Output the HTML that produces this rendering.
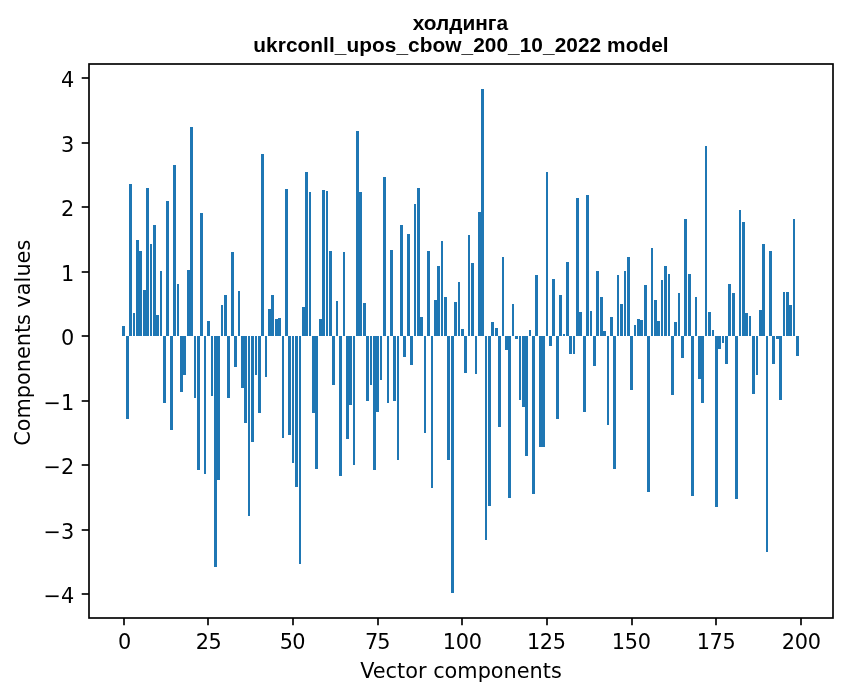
<!DOCTYPE html>
<html lang="uk"><head><meta charset="utf-8"><title>холдинга</title>
<style>html,body{margin:0;padding:0;background:#fff;overflow:hidden}svg{display:block}text{fill:#000}.t{font-family:"DejaVu Sans","Liberation Sans",sans-serif;font-size:20.83px}.h{font-family:"Liberation Sans","DejaVu Sans",sans-serif;font-weight:bold;font-size:20.83px}</style></head><body>
<svg width="847" height="696" viewBox="0 0 847 696">
<rect width="847" height="696" fill="#fff"/>
<g fill="#1f77b4" shape-rendering="crispEdges">
<rect x="122" y="326" width="3" height="10"/>
<rect x="126" y="336" width="3" height="83"/>
<rect x="129" y="184" width="3" height="152"/>
<rect x="133" y="313" width="2" height="23"/>
<rect x="136" y="240" width="3" height="96"/>
<rect x="139" y="251" width="3" height="85"/>
<rect x="143" y="290" width="3" height="46"/>
<rect x="146" y="188" width="3" height="148"/>
<rect x="150" y="244" width="2" height="92"/>
<rect x="153" y="225" width="3" height="111"/>
<rect x="156" y="315" width="3" height="21"/>
<rect x="160" y="271" width="2" height="65"/>
<rect x="163" y="336" width="3" height="67"/>
<rect x="166" y="201" width="3" height="135"/>
<rect x="170" y="336" width="3" height="94"/>
<rect x="173" y="165" width="3" height="171"/>
<rect x="177" y="284" width="2" height="52"/>
<rect x="180" y="336" width="3" height="56"/>
<rect x="183" y="336" width="3" height="39"/>
<rect x="187" y="270" width="3" height="66"/>
<rect x="190" y="127" width="3" height="209"/>
<rect x="194" y="336" width="2" height="62"/>
<rect x="197" y="336" width="3" height="134"/>
<rect x="200" y="213" width="3" height="123"/>
<rect x="204" y="336" width="2" height="138"/>
<rect x="207" y="321" width="3" height="15"/>
<rect x="211" y="336" width="2" height="60"/>
<rect x="214" y="336" width="3" height="231"/>
<rect x="217" y="336" width="3" height="144"/>
<rect x="221" y="305" width="2" height="31"/>
<rect x="224" y="295" width="3" height="41"/>
<rect x="227" y="336" width="3" height="62"/>
<rect x="231" y="252" width="3" height="84"/>
<rect x="234" y="336" width="3" height="31"/>
<rect x="238" y="291" width="2" height="45"/>
<rect x="241" y="336" width="3" height="52"/>
<rect x="244" y="336" width="3" height="87"/>
<rect x="248" y="336" width="2" height="180"/>
<rect x="251" y="336" width="3" height="106"/>
<rect x="255" y="336" width="2" height="39"/>
<rect x="258" y="336" width="3" height="77"/>
<rect x="261" y="154" width="3" height="182"/>
<rect x="265" y="336" width="2" height="41"/>
<rect x="268" y="309" width="3" height="27"/>
<rect x="271" y="295" width="3" height="41"/>
<rect x="275" y="319" width="3" height="17"/>
<rect x="278" y="318" width="3" height="18"/>
<rect x="282" y="336" width="2" height="102"/>
<rect x="285" y="189" width="3" height="147"/>
<rect x="288" y="336" width="3" height="99"/>
<rect x="292" y="336" width="2" height="127"/>
<rect x="295" y="336" width="3" height="151"/>
<rect x="299" y="336" width="2" height="228"/>
<rect x="302" y="307" width="3" height="29"/>
<rect x="305" y="172" width="3" height="164"/>
<rect x="309" y="192" width="2" height="144"/>
<rect x="312" y="336" width="3" height="77"/>
<rect x="315" y="336" width="3" height="133"/>
<rect x="319" y="319" width="3" height="17"/>
<rect x="322" y="190" width="3" height="146"/>
<rect x="326" y="191" width="2" height="145"/>
<rect x="329" y="251" width="3" height="85"/>
<rect x="332" y="336" width="3" height="49"/>
<rect x="336" y="301" width="2" height="35"/>
<rect x="339" y="336" width="3" height="140"/>
<rect x="343" y="252" width="2" height="84"/>
<rect x="346" y="336" width="3" height="103"/>
<rect x="349" y="336" width="3" height="69"/>
<rect x="353" y="336" width="2" height="129"/>
<rect x="356" y="131" width="3" height="205"/>
<rect x="359" y="192" width="3" height="144"/>
<rect x="363" y="303" width="3" height="33"/>
<rect x="366" y="336" width="3" height="65"/>
<rect x="370" y="336" width="2" height="49"/>
<rect x="373" y="336" width="3" height="134"/>
<rect x="376" y="336" width="3" height="76"/>
<rect x="380" y="336" width="2" height="44"/>
<rect x="383" y="177" width="3" height="159"/>
<rect x="387" y="336" width="2" height="67"/>
<rect x="390" y="250" width="3" height="86"/>
<rect x="393" y="336" width="3" height="65"/>
<rect x="397" y="336" width="2" height="124"/>
<rect x="400" y="225" width="3" height="111"/>
<rect x="403" y="336" width="3" height="21"/>
<rect x="407" y="234" width="3" height="102"/>
<rect x="410" y="336" width="3" height="29"/>
<rect x="414" y="204" width="2" height="132"/>
<rect x="417" y="188" width="3" height="148"/>
<rect x="420" y="317" width="3" height="19"/>
<rect x="424" y="336" width="2" height="97"/>
<rect x="427" y="251" width="3" height="85"/>
<rect x="431" y="336" width="2" height="152"/>
<rect x="434" y="300" width="3" height="36"/>
<rect x="437" y="266" width="3" height="70"/>
<rect x="441" y="241" width="2" height="95"/>
<rect x="444" y="297" width="3" height="39"/>
<rect x="447" y="336" width="3" height="124"/>
<rect x="451" y="336" width="3" height="257"/>
<rect x="454" y="302" width="3" height="34"/>
<rect x="458" y="282" width="2" height="54"/>
<rect x="461" y="329" width="3" height="7"/>
<rect x="464" y="336" width="3" height="37"/>
<rect x="468" y="235" width="2" height="101"/>
<rect x="471" y="263" width="3" height="73"/>
<rect x="475" y="336" width="2" height="38"/>
<rect x="478" y="212" width="3" height="124"/>
<rect x="481" y="89" width="3" height="247"/>
<rect x="485" y="336" width="2" height="204"/>
<rect x="488" y="336" width="3" height="170"/>
<rect x="491" y="322" width="3" height="14"/>
<rect x="495" y="328" width="3" height="8"/>
<rect x="498" y="336" width="3" height="91"/>
<rect x="502" y="257" width="2" height="79"/>
<rect x="505" y="336" width="3" height="14"/>
<rect x="508" y="336" width="3" height="162"/>
<rect x="512" y="304" width="2" height="32"/>
<rect x="515" y="336" width="3" height="3"/>
<rect x="519" y="336" width="2" height="64"/>
<rect x="522" y="336" width="3" height="71"/>
<rect x="525" y="336" width="3" height="120"/>
<rect x="529" y="330" width="2" height="6"/>
<rect x="532" y="336" width="3" height="158"/>
<rect x="535" y="275" width="3" height="61"/>
<rect x="539" y="336" width="3" height="111"/>
<rect x="542" y="336" width="3" height="111"/>
<rect x="546" y="172" width="2" height="164"/>
<rect x="549" y="336" width="3" height="10"/>
<rect x="552" y="279" width="3" height="57"/>
<rect x="556" y="336" width="3" height="83"/>
<rect x="559" y="295" width="3" height="41"/>
<rect x="563" y="334" width="2" height="2"/>
<rect x="566" y="262" width="3" height="74"/>
<rect x="569" y="336" width="3" height="18"/>
<rect x="573" y="336" width="2" height="18"/>
<rect x="576" y="198" width="3" height="138"/>
<rect x="579" y="312" width="3" height="24"/>
<rect x="583" y="336" width="3" height="76"/>
<rect x="586" y="195" width="3" height="141"/>
<rect x="590" y="311" width="2" height="25"/>
<rect x="593" y="336" width="3" height="30"/>
<rect x="596" y="271" width="3" height="65"/>
<rect x="600" y="297" width="3" height="39"/>
<rect x="603" y="331" width="3" height="5"/>
<rect x="607" y="336" width="2" height="89"/>
<rect x="610" y="317" width="3" height="19"/>
<rect x="613" y="336" width="3" height="133"/>
<rect x="617" y="275" width="2" height="61"/>
<rect x="620" y="304" width="3" height="32"/>
<rect x="624" y="271" width="2" height="65"/>
<rect x="627" y="257" width="3" height="79"/>
<rect x="630" y="336" width="3" height="54"/>
<rect x="634" y="325" width="2" height="11"/>
<rect x="637" y="319" width="3" height="17"/>
<rect x="640" y="320" width="3" height="16"/>
<rect x="644" y="285" width="3" height="51"/>
<rect x="647" y="336" width="3" height="156"/>
<rect x="651" y="248" width="2" height="88"/>
<rect x="654" y="300" width="3" height="36"/>
<rect x="657" y="321" width="3" height="15"/>
<rect x="661" y="280" width="2" height="56"/>
<rect x="664" y="266" width="3" height="70"/>
<rect x="668" y="274" width="2" height="62"/>
<rect x="671" y="336" width="3" height="59"/>
<rect x="674" y="322" width="3" height="14"/>
<rect x="678" y="293" width="2" height="43"/>
<rect x="681" y="336" width="3" height="22"/>
<rect x="684" y="219" width="3" height="117"/>
<rect x="688" y="274" width="3" height="62"/>
<rect x="691" y="336" width="3" height="160"/>
<rect x="695" y="297" width="2" height="39"/>
<rect x="698" y="336" width="3" height="43"/>
<rect x="701" y="336" width="3" height="67"/>
<rect x="705" y="146" width="2" height="190"/>
<rect x="708" y="312" width="3" height="24"/>
<rect x="712" y="330" width="2" height="6"/>
<rect x="715" y="336" width="3" height="171"/>
<rect x="718" y="336" width="3" height="13"/>
<rect x="722" y="336" width="2" height="7"/>
<rect x="725" y="336" width="3" height="28"/>
<rect x="728" y="284" width="3" height="52"/>
<rect x="732" y="293" width="3" height="43"/>
<rect x="735" y="336" width="3" height="163"/>
<rect x="739" y="210" width="2" height="126"/>
<rect x="742" y="222" width="3" height="114"/>
<rect x="745" y="313" width="3" height="23"/>
<rect x="749" y="316" width="2" height="20"/>
<rect x="752" y="336" width="3" height="58"/>
<rect x="756" y="336" width="2" height="39"/>
<rect x="759" y="310" width="3" height="26"/>
<rect x="762" y="244" width="3" height="92"/>
<rect x="766" y="336" width="2" height="216"/>
<rect x="769" y="251" width="3" height="85"/>
<rect x="772" y="336" width="3" height="28"/>
<rect x="776" y="336" width="3" height="3"/>
<rect x="779" y="336" width="3" height="64"/>
<rect x="783" y="292" width="2" height="44"/>
<rect x="786" y="292" width="3" height="44"/>
<rect x="789" y="305" width="3" height="31"/>
<rect x="793" y="219" width="2" height="117"/>
<rect x="796" y="336" width="3" height="20"/>
</g>
<g stroke="#000" stroke-width="1.67" fill="none">
<line x1="124" y1="618" x2="124" y2="625.3"/>
<line x1="208" y1="618" x2="208" y2="625.3"/>
<line x1="293" y1="618" x2="293" y2="625.3"/>
<line x1="378" y1="618" x2="378" y2="625.3"/>
<line x1="462" y1="618" x2="462" y2="625.3"/>
<line x1="547" y1="618" x2="547" y2="625.3"/>
<line x1="632" y1="618" x2="632" y2="625.3"/>
<line x1="716" y1="618" x2="716" y2="625.3"/>
<line x1="801" y1="618" x2="801" y2="625.3"/>
<line x1="81.7" y1="594" x2="89" y2="594"/>
<line x1="81.7" y1="530" x2="89" y2="530"/>
<line x1="81.7" y1="465" x2="89" y2="465"/>
<line x1="81.7" y1="401" x2="89" y2="401"/>
<line x1="81.7" y1="336" x2="89" y2="336"/>
<line x1="81.7" y1="272" x2="89" y2="272"/>
<line x1="81.7" y1="207" x2="89" y2="207"/>
<line x1="81.7" y1="143" x2="89" y2="143"/>
<line x1="81.7" y1="78" x2="89" y2="78"/>
<rect x="89" y="64" width="744" height="554" stroke-linejoin="miter"/>
</g>
<text class="t" x="118.02" y="649" letter-spacing="-0.3">0</text>
<text class="t" x="195.82" y="649" letter-spacing="-0.5">25</text>
<text class="t" x="279.85" y="649" letter-spacing="-0.8">50</text>
<text class="t" x="364.88" y="649" letter-spacing="-0.9">75</text>
<text class="t" x="442.79" y="649" letter-spacing="-0.3">100</text>
<text class="t" x="526.92" y="649" letter-spacing="-0.3">125</text>
<text class="t" x="611.85" y="649" letter-spacing="-0.3">150</text>
<text class="t" x="696.68" y="649" letter-spacing="-0.3">175</text>
<text class="t" x="781.81" y="649" letter-spacing="-0.3">200</text>
<text class="t" x="74.3" y="603" text-anchor="end">−4</text>
<text class="t" x="74.3" y="539" text-anchor="end">−3</text>
<text class="t" x="74.3" y="474" text-anchor="end">−2</text>
<text class="t" x="74.3" y="410" text-anchor="end">−1</text>
<text class="t" x="74.3" y="345" text-anchor="end">0</text>
<text class="t" x="74.3" y="281" text-anchor="end">1</text>
<text class="t" x="74.3" y="216" text-anchor="end">2</text>
<text class="t" x="74.3" y="152" text-anchor="end">3</text>
<text class="t" x="74.3" y="87" text-anchor="end">4</text>
<text class="t" x="461" y="678" text-anchor="middle">Vector components</text>
<text class="t" transform="translate(30 342.8) rotate(-90)" text-anchor="middle">Components values</text>
<text class="h" x="460.4" y="29.7" text-anchor="middle">холдинга</text>
<text class="h" x="461" y="51.7" text-anchor="middle" letter-spacing="0.058">ukrconll_upos_cbow_200_10_2022 model</text>
</svg></body></html>
